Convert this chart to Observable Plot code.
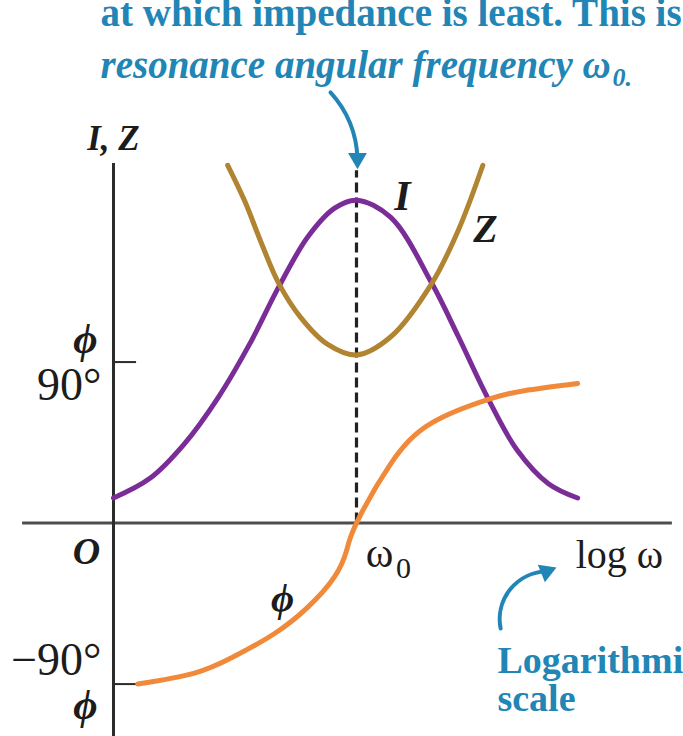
<!DOCTYPE html>
<html>
<head>
<meta charset="utf-8">
<script src="https://cdn.jsdelivr.net/npm/d3@7"></script>
<script src="https://cdn.jsdelivr.net/npm/@observablehq/plot@0.6"></script>
<style>
  html, body { margin: 0; padding: 0; background: #fff; overflow: hidden; }
  #chart svg { display: block; }
</style>
</head>
<body>
<div id="chart"></div>
<script>
// log ω, measured from the origin (ω0 sits at 1)
const logW_I   = [0, 0.15, 0.29, 0.43, 0.56, 0.68, 0.80, 0.91, 1.00, 1.14, 1.31, 1.42, 1.54, 1.66, 1.79, 1.91];
const I_vals   = [14, 25, 44, 70, 100, 132, 160, 176, 180.5, 171, 134, 104, 70, 41, 22, 14];

const logW_Z   = [0.47, 0.54, 0.61, 0.68, 0.77, 0.88, 1.00, 1.14, 1.31, 1.42, 1.52];
const Z_vals   = [200, 180, 156, 134, 115, 100, 94, 104, 134, 164, 200];

const logW_phi = [0.10, 0.33, 0.49, 0.66, 0.80, 0.91, 0.96, 1.00, 1.14, 1.31, 1.54, 1.69, 1.91];
const phi_vals = [-90, -84, -75, -62, -47, -30, -15, 0, 33, 56, 69, 74, 78];

const omega0 = [1];                 // resonance angular frequency
const yTicks = [90, -90];           // phase ticks (degrees)
const yTickLabels = ["90°", "−90°"];

const toRows = (xs, ys) => xs.map((x, i) => ({x, y: ys[i]}));
const rowsI = toRows(logW_I, I_vals);
const rowsZ = toRows(logW_Z, Z_vals);
const rowsPhi = toRows(logW_phi, phi_vals);
const tickRows = yTicks.map((v, i) => ({v, label: yTickLabels[i]}));

const colors = {I: "#7a2c97", Z: "#b08430", phi: "#f08a3a"};

// frame and axis extents
const W = 683, H = 736;
const xDomain = [-0.465, 2.3457];
const yDomain = [-119.3, 292.1];
const xAxisExtent = [-0.374, 2.30];
const yAxisExtent = [-119.3, 201];
const dashTop = 197;
const tickLen = 0.095;

const serif = "'Liberation Serif', 'DejaVu Serif', serif";
const ink = "#1c1c1c";
const blue = "#2185b5";

// annotation text
const boldItalicLabels = [
  {x: 0.00,  y: 214.7, text: "I, Z", size: 35},
  {x: 1.189, y: 182.5, text: "I",    size: 42},
  {x: 1.531, y: 164.1, text: "Z",    size: 40},
  {x: -0.111, y: -15.9, text: "O",   size: 38},
  {x: 0.696, y: -42.2, text: "ϕ",    size: 40}
];
const plainLabels = [
  {x: 1.095, y: -17.3, text: "ω",     size: 42},
  {x: 1.193, y: -25.1, text: "0",     size: 30},
  {x: 2.082, y: -17.7, text: "log ω", size: 40}
];
const callouts = [
  {x: -0.0535, y: 285.1, text: "at which impedance is least. This is", italic: false, size: 39},
  {x: -0.0535, y: 255.5, text: "resonance angular frequency ω",        italic: true,  size: 39},
  {x: 2.054,   y: 248.7, text: "0.",                                   italic: true,  size: 26},
  {x: 1.580,   y: -76.8, text: "Logarithmic",                          italic: false, size: 38},
  {x: 1.580,   y: -98.3, text: "scale",                                italic: false, size: 38}
];
// callout arrows: shaft plus a filled head
const arrowShafts = [
  {x1: 0.893, y1: 240.7, x2: 1.004, y2: 203.8, bend: 20},
  {x1: 1.593, y1: -58.9, x2: 1.7815, y2: -27.1, bend: 50}
];
const arrowHeads = [
  {x: 1.004,  y: 203.8, angle: 180},
  {x: 1.7815, y: -27.1, angle: 68}
];

const textMarks = (rows, opts) => rows.map(d => Plot.text([d], {
  x: "x", y: "y", text: "text", fontFamily: serif, fontSize: d.size, fill: ink, ...opts
}));

const plot = Plot.plot({
  width: W, height: H,
  marginTop: 0, marginRight: 0, marginBottom: 0, marginLeft: 0,
  style: {background: "#fff"},
  x: {domain: xDomain, axis: null},
  y: {domain: yDomain, axis: null},
  marks: [
    // axes through the origin
    Plot.ruleY([0], {x1: xAxisExtent[0], x2: xAxisExtent[1], stroke: "#4d4d4d", strokeWidth: 3}),
    Plot.ruleX([0], {y1: yAxisExtent[0], y2: yAxisExtent[1], stroke: "#2b2b2b", strokeWidth: 3}),
    Plot.ruleY(yTicks, {x1: 0, x2: tickLen, stroke: "#2b2b2b", strokeWidth: 2}),
    // resonance marker
    Plot.ruleX(omega0, {y1: 0, y2: dashTop, stroke: "#222", strokeWidth: 3.2, strokeDasharray: "10,5"}),
    // curves
    Plot.line(rowsI, {x: "x", y: "y", stroke: colors.I, strokeWidth: 5, curve: "catmull-rom"}),
    Plot.line(rowsZ, {x: "x", y: "y", stroke: colors.Z, strokeWidth: 5, curve: "catmull-rom"}),
    Plot.line(rowsPhi, {x: "x", y: "y", stroke: colors.phi, strokeWidth: 5, curve: "natural"}),
    // tick labels, with ϕ beside each
    Plot.text(tickRows.filter(d => d.v > 0), {x: 0, y: "v", text: "label", textAnchor: "end", dx: -12, dy: 23,
      fontFamily: serif, fontSize: 46, fill: ink}),
    Plot.text(tickRows.filter(d => d.v < 0), {x: 0, y: "v", text: "label", textAnchor: "end", dx: -12, dy: -24,
      fontFamily: serif, fontSize: 46, fill: ink}),
    Plot.text(tickRows.filter(d => d.v > 0), {x: 0, y: "v", text: () => "ϕ", textAnchor: "end", dx: -16, dy: -23,
      fontFamily: serif, fontSize: 42, fontStyle: "italic", fontWeight: "bold", fill: ink}),
    Plot.text(tickRows.filter(d => d.v < 0), {x: 0, y: "v", text: () => "ϕ", textAnchor: "end", dx: -16, dy: 21,
      fontFamily: serif, fontSize: 42, fontStyle: "italic", fontWeight: "bold", fill: ink}),
    // curve and axis labels
    ...textMarks(boldItalicLabels, {fontStyle: "italic", fontWeight: "bold"}),
    ...textMarks(plainLabels, {}),
    // blue callouts
    ...callouts.map(d => Plot.text([d], {x: "x", y: "y", text: "text", textAnchor: "start",
      fontFamily: serif, fontSize: d.size, fontWeight: "bold", fontStyle: d.italic ? "italic" : "normal",
      fill: blue})),
    ...arrowShafts.map(d => Plot.arrow([d], {x1: "x1", y1: "y1", x2: "x2", y2: "y2", bend: d.bend,
      stroke: blue, strokeWidth: 4, headLength: 0})),
    ...arrowHeads.map(d => Plot.dot([d], {x: "x", y: "y", symbol: "triangle", r: 7, rotate: d.angle,
      fill: blue, stroke: "none"}))
  ]
});

document.getElementById("chart").append(plot);
</script>
</body>
</html>
